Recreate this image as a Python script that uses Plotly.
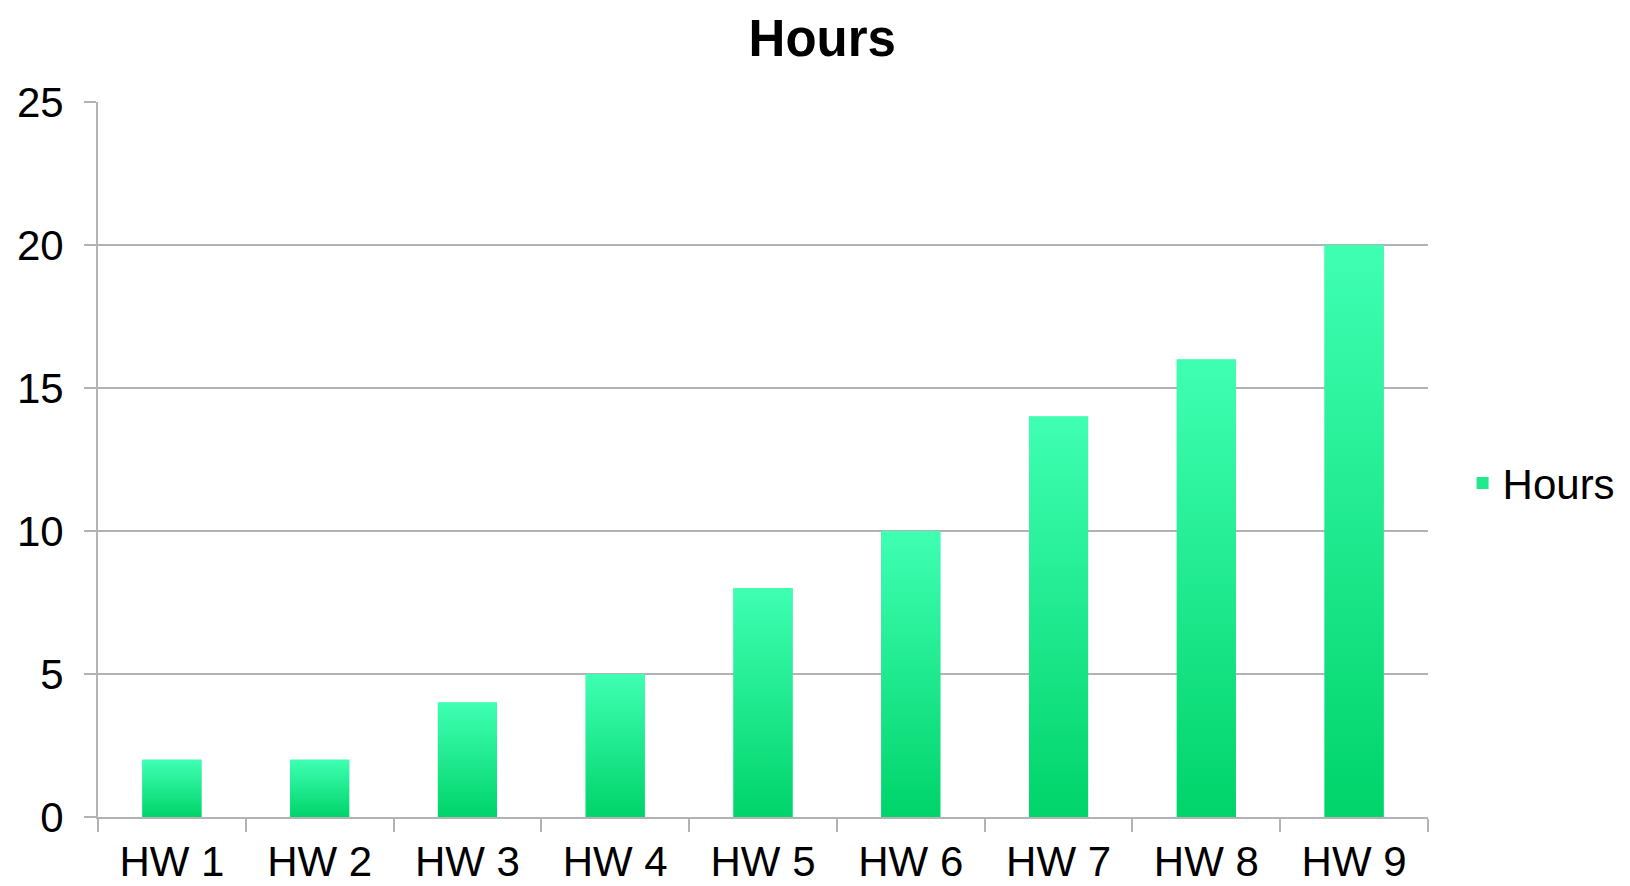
import plotly.graph_objects as go

categories = ["HW 1", "HW 2", "HW 3", "HW 4", "HW 5", "HW 6", "HW 7", "HW 8", "HW 9"]
hours = [2, 2, 4, 5, 8, 10, 14, 16, 20]
y_ticks = [0, 5, 10, 15, 20, 25]

BAR_W = 0.4
TOP_C = "#3FFFB3"
BOT_C = "#00D46A"
MID_C = "#1FEA8E"
GRID_C = "#B3B3B3"
FONT = "Liberation Sans, Arial, sans-serif"

idx = list(range(len(categories)))

fig = go.Figure()

# real bars (data marks + legend)
fig.add_trace(go.Bar(
    x=idx, y=hours, width=BAR_W, name="Hours",
    marker=dict(color=MID_C, line=dict(width=0)),
    showlegend=True,
))

# gradient overlay derived from the same data
for i, v in zip(idx, hours):
    xs = [i - BAR_W / 2, i + BAR_W / 2, i + BAR_W / 2, i - BAR_W / 2, i - BAR_W / 2]
    ys = [0, 0, v, v, 0]
    fig.add_trace(go.Scatter(
        x=xs, y=ys, mode="none", fill="toself",
        fillgradient=dict(type="vertical", colorscale=[[0, BOT_C], [1, TOP_C]], start=0, stop=v),
        showlegend=False, hoverinfo="skip",
    ))

fig.update_layout(
    width=1622, height=878,
    margin=dict(l=90, r=202, t=94, b=69, autoexpand=False),
    paper_bgcolor="white", plot_bgcolor="white",
    font=dict(family=FONT, color="black", size=42),
    title=dict(text="<b>Hours</b>", x=0.502, xanchor="center", y=0.986, yanchor="top",
               font=dict(family=FONT, size=51, color="black"), automargin=False),
    legend=dict(x=1.026, xanchor="left", y=0.467, yanchor="middle",
                font=dict(family=FONT, size=42), itemwidth=30, bgcolor="rgba(0,0,0,0)"),
    showlegend=True,
)

fig.update_xaxes(
    range=[-0.5, len(categories) - 0.5],
    tickmode="array", tickvals=idx, ticktext=categories,
    ticks="", showgrid=False, zeroline=False,
    showline=True, linecolor=GRID_C, linewidth=2,
    tickfont=dict(family=FONT, size=42),
    ticklabelstandoff=7,
    minor=dict(tickmode="linear", tick0=0.5, dtick=1, ticks="outside", ticklen=13,
               tickcolor=GRID_C, tickwidth=2, showgrid=False),
    automargin=False, fixedrange=True,
)
fig.update_yaxes(
    range=[0, 25], tickmode="array", tickvals=y_ticks,
    ticks="outside", ticklen=12, tickcolor=GRID_C, tickwidth=2,
    showgrid=True, gridcolor=GRID_C, gridwidth=2,
    zeroline=False, showline=True, linecolor=GRID_C, linewidth=2,
    tickfont=dict(family=FONT, size=42),
    ticklabelstandoff=12,
    automargin=False, fixedrange=True,
)

fig.write_html("out.html")
